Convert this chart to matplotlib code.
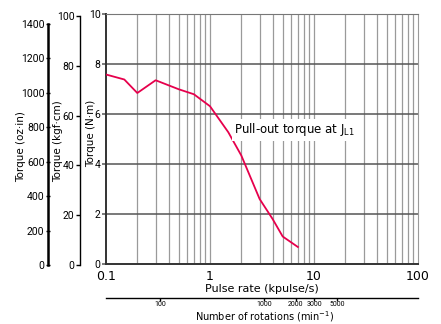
import numpy as np
import matplotlib.pyplot as plt
from matplotlib.ticker import FixedLocator, NullFormatter, NullLocator

# Pull-out torque curve (kpulse/s vs N·m)
pulse_rate = [0.1, 0.15, 0.2, 0.3, 0.5, 0.7, 1.0, 1.5, 2.0, 3.0, 4.0, 5.0, 7.0]
torque_nm = [7.58, 7.38, 6.84, 7.35, 6.99, 6.79, 6.31, 5.27, 4.34, 2.6, 1.8, 1.1, 0.68]

nm_ticks = [0, 2, 4, 6, 8, 10]
kgf_ticks = [0, 20, 40, 60, 80, 100]
oz_ticks = [0, 200, 400, 600, 800, 1000, 1200, 1400]
x_ticks = [0.1, 1, 10, 100]
x_tick_labels = ["0.1", "1", "10", "100"]
rpm_ticks = [100, 1000, 2000, 3000, 5000]
rpm_per_kpps = 300  # 200 pulses/rev

W, H = 441, 324
fig = plt.figure(figsize=(W / 100, H / 100), dpi=100)


def px_axes(x0, x1, ytop, ybot):
    return fig.add_axes([x0 / W, 1 - ybot / H, (x1 - x0) / W, (ybot - ytop) / H])


num = dict(family=["Roboto", "DejaVu Sans"])
red = "#e6004c"

# main plot
ax = px_axes(106, 418, 14, 264)
ax.set_xscale("log")
ax.set_xlim(0.1, 100)
ax.set_ylim(0, 10)
ax.plot(pulse_rate, torque_nm, color=red, lw=1.3, zorder=5)

# grid
minor = [m * 10.0 ** e for e in (-1, 0, 1) for m in range(2, 10)]
for v in minor + [1, 10]:
    ax.axvline(v, color="#9a9a9a", lw=0.9, zorder=1)
for v in nm_ticks[1:-1]:
    ax.axhline(v, color="#555555", lw=1.1, zorder=2)

ax.xaxis.set_major_locator(FixedLocator(x_ticks))
ax.xaxis.set_minor_locator(NullLocator())
ax.set_xticklabels(x_tick_labels, fontsize=9)
ax.tick_params(axis="x", length=0, pad=4)
ax.set_yticks(nm_ticks)
ax.set_yticklabels([str(v) for v in nm_ticks], fontsize=7.5, **num)
ax.tick_params(axis="y", length=3, width=1.1, color="#555555", pad=1)
for side in ("left", "bottom"):
    ax.spines[side].set_color("#333333")
    ax.spines[side].set_linewidth(1.4)
ax.spines["top"].set_color("#777777")
ax.spines["right"].set_color("#9a9a9a")
ax.set_xlabel("Pulse rate (kpulse/s)", fontsize=8, labelpad=1)

ax.text(1.72, 5.36, r"Pull-out torque at J$_{\rm L1}$", fontsize=8.5, va="center",
        zorder=6, bbox=dict(facecolor="white", edgecolor="none", pad=1.5))

# kgf·cm axis
ak = px_axes(80, 81, 16, 265)
ak.set_ylim(0, 100)
ak.set_xticks([])
for s in ("top", "right", "bottom"):
    ak.spines[s].set_visible(False)
ak.spines["left"].set_linewidth(1.0)
ak.set_yticks(kgf_ticks)
ak.set_yticklabels([str(v) for v in kgf_ticks], fontsize=7.5, **num)
ak.tick_params(axis="y", length=3, width=1, pad=1)
ak.patch.set_visible(False)

# oz·in axis
ao = px_axes(48, 49, 24, 265)
ao.set_ylim(0, 1400)
ao.set_xticks([])
for s in ("top", "right", "bottom"):
    ao.spines[s].set_visible(False)
ao.spines["left"].set_linewidth(1.8)
ao.set_yticks(oz_ticks)
ao.set_yticklabels([str(v) for v in oz_ticks], fontsize=7.5, **num)
ao.tick_params(axis="y", length=3, width=1, direction="inout", pad=1)
ao.patch.set_visible(False)

# y-axis titles
fig.text(21 / W, 1 - 147 / H, "Torque (oz·in)", rotation=90, fontsize=7.5,
         ha="center", va="center")
fig.text(58 / W, 1 - 141 / H, "Torque (kgf·cm)", rotation=90, fontsize=7.5,
         ha="center", va="center")
fig.text(91 / W, 1 - 133 / H, "Torque (N·m)", rotation=90, fontsize=7.5,
         ha="center", va="center")

# rotations axis
ar = px_axes(106, 418, 297, 298)
ar.set_xscale("log")
ar.set_xlim(0.1 * rpm_per_kpps, 100 * rpm_per_kpps)
ar.set_yticks([])
for s in ("top", "right", "left"):
    ar.spines[s].set_visible(False)
ar.spines["bottom"].set_linewidth(1.0)
ar.xaxis.set_major_locator(FixedLocator(rpm_ticks))
ar.xaxis.set_minor_locator(NullLocator())
ar.xaxis.set_minor_formatter(NullFormatter())
ar.set_xticklabels([str(v) for v in rpm_ticks], fontsize=5, **num)
ar.tick_params(axis="x", length=2, width=1, pad=0.5)
ar.patch.set_visible(False)
fig.text(264 / W, 1 - 321 / H, "Number of rotations (min$^{-1}$)", fontsize=7,
         ha="center", va="baseline")

fig.savefig("out.png", dpi=100)
